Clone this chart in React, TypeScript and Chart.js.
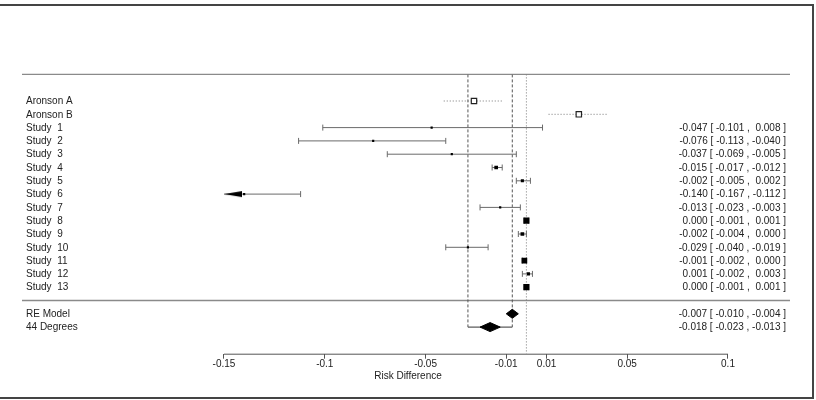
import React, { useEffect, useRef } from "react";
import { Chart, registerables } from "chart.js";

Chart.register(...registerables);

// ---------- data ----------
const aronsonLabels = ["Aronson A", "Aronson B"];
const aronsonEst = [-0.026, 0.026];
const aronsonLo = [-0.041, 0.011];
const aronsonHi = [-0.012, 0.04];

const studyLabels = [
  "Study  1", "Study  2", "Study  3", "Study  4", "Study  5", "Study  6", "Study  7",
  "Study  8", "Study  9", "Study  10", "Study  11", "Study  12", "Study  13",
];
const studyEst = [-0.047, -0.076, -0.037, -0.015, -0.002, -0.14, -0.013, 0.0, -0.002, -0.029, -0.001, 0.001, 0.0];
const studyLo = [-0.101, -0.113, -0.069, -0.017, -0.005, -0.167, -0.023, -0.001, -0.004, -0.04, -0.002, -0.002, -0.001];
const studyHi = [0.008, -0.04, -0.005, -0.012, 0.002, -0.112, -0.003, 0.001, 0.0, -0.019, 0.0, 0.003, 0.001];
const studyWeights = [1, 1, 1, 7, 5, 1, 1, 20, 7, 1, 17, 5, 20];

const summaryLabels = ["RE Model", "44 Degrees"];
const summaryEst = [-0.007, -0.018];
const summaryLo = [-0.01, -0.023];
const summaryHi = [-0.004, -0.013];

const bracketLeft = -0.029;

const tickValues = [-0.15, -0.1, -0.05, -0.01, 0.01, 0.05, 0.1];
const tickLabels = ["-0.15", "-0.1", "-0.05", "-0.01", "0.01", "0.05", "0.1"];
const axisTitle = "Risk Difference";

// ---------- layout (rows) ----------
const topRow = -2;
const aronsonRows = [0, 1];
const studyRows = studyLabels.map((_, i) => i + 2);
const separatorRow = 15;
const summaryRows = [16, 17];
const bottomRow = 19;

const axisMin = tickValues[0];
const FONT = "'Liberation Sans', Arial, Helvetica, sans-serif";

const fmt = (v: number) => (v < 0 ? "-" : " ") + Math.abs(v).toFixed(3);
const ciText = (e: number, l: number, h: number) => `${fmt(e)} [ ${fmt(l)} , ${fmt(h)} ]`;

export default function App() {
  const ref = useRef<HTMLCanvasElement>(null);

  useEffect(() => {
    const canvas = ref.current;
    if (!canvas) return;

    // arrow marker (tip at centre of image)
    const arrow = document.createElement("canvas");
    arrow.width = 36;
    arrow.height = 8;
    const actx = arrow.getContext("2d")!;
    actx.fillStyle = "#000";
    actx.beginPath();
    actx.moveTo(18, 4);
    actx.lineTo(36, 1);
    actx.lineTo(36, 7);
    actx.closePath();
    actx.fill();

    // CI segments (solid, studies)
    const ciData: any[] = [];
    const capData: any[] = [];
    const arrowData: any[] = [];
    studyEst.forEach((_, i) => {
      const lo = Math.max(studyLo[i], axisMin);
      ciData.push({ x: lo, y: studyRows[i] }, { x: studyHi[i], y: studyRows[i] }, { x: null, y: null });
      if (studyLo[i] < axisMin) arrowData.push({ x: axisMin, y: studyRows[i] });
      else capData.push({ x: studyLo[i], y: studyRows[i] });
      capData.push({ x: studyHi[i], y: studyRows[i] });
    });
    const dotData: any[] = [];
    aronsonEst.forEach((_, i) => {
      dotData.push({ x: aronsonLo[i], y: aronsonRows[i] }, { x: aronsonHi[i], y: aronsonRows[i] }, { x: null, y: null });
    });

    const sideFor = (w: number) => Math.max(2.2, 6.2 * Math.sqrt(w / 20));
    const studyRadius = studyWeights.map((w) => sideFor(w) / Math.SQRT2);

    const dh = 0.34;
    const diamond = (k: number) => [
      { x: summaryLo[k], y: summaryRows[k] },
      { x: summaryEst[k], y: summaryRows[k] - dh },
      { x: summaryHi[k], y: summaryRows[k] },
      { x: summaryEst[k], y: summaryRows[k] + dh },
      { x: summaryLo[k], y: summaryRows[k] },
    ];

    const lineBase = { type: "line" as const, pointRadius: 0, tension: 0, fill: false, borderWidth: 1 };

    const decor = {
      id: "decor",
      beforeDatasetsDraw(chart: any) {
        const { ctx } = chart;
        const xs = chart.scales.x;
        const ys = chart.scales.y;
        ctx.save();
        ctx.strokeStyle = "#8a8a8a";
        ctx.lineWidth = 1.3;
        [topRow, separatorRow].forEach((r) => {
          const y = ys.getPixelForValue(r);
          ctx.beginPath();
          ctx.moveTo(22, y);
          ctx.lineTo(790, y);
          ctx.stroke();
        });
        // axis line
        const ay = chart.chartArea.bottom + 0.5;
        ctx.strokeStyle = "#555";
        ctx.lineWidth = 1;
        ctx.beginPath();
        ctx.moveTo(xs.getPixelForValue(tickValues[0]), ay);
        ctx.lineTo(xs.getPixelForValue(tickValues[tickValues.length - 1]), ay);
        ctx.stroke();
        ctx.restore();
      },
      afterDraw(chart: any) {
        const { ctx } = chart;
        const ys = chart.scales.y;
        ctx.save();
        ctx.fillStyle = "#222";
        ctx.font = `10px ${FONT}`;
        ctx.textBaseline = "middle";
        ctx.textAlign = "left";
        aronsonLabels.forEach((t, i) => ctx.fillText(t, 26, ys.getPixelForValue(aronsonRows[i]) + 0.5));
        studyLabels.forEach((t, i) => ctx.fillText(t, 26, ys.getPixelForValue(studyRows[i]) + 0.5));
        summaryLabels.forEach((t, i) => ctx.fillText(t, 26, ys.getPixelForValue(summaryRows[i]) + 0.5));
        ctx.textAlign = "right";
        studyEst.forEach((e, i) =>
          ctx.fillText(ciText(e, studyLo[i], studyHi[i]), 786, ys.getPixelForValue(studyRows[i]) + 0.5)
        );
        summaryEst.forEach((e, i) =>
          ctx.fillText(ciText(e, summaryLo[i], summaryHi[i]), 786, ys.getPixelForValue(summaryRows[i]) + 0.5)
        );
        // frame
        ctx.strokeStyle = "#444";
        ctx.lineWidth = 2;
        ctx.beginPath();
        ctx.moveTo(0, 5);
        ctx.lineTo(813, 5);
        ctx.lineTo(813, 398);
        ctx.lineTo(0, 398);
        ctx.stroke();
        ctx.restore();
      },
    };

    const chart = new Chart(canvas, {
      type: "scatter",
      data: {
        datasets: [
          {
            type: "scatter",
            data: studyEst.map((e, i) => ({ x: e, y: studyRows[i] })),
            pointStyle: "rect",
            pointRadius: studyRadius,
            pointBorderWidth: 0,
            backgroundColor: "#000",
            borderColor: "#000",
            order: 0,
          },
          {
            type: "scatter",
            data: aronsonEst.map((e, i) => ({ x: e, y: aronsonRows[i] })),
            pointStyle: "rect",
            pointRadius: 3.8,
            pointBorderWidth: 1.2,
            backgroundColor: "#fff",
            borderColor: "#222",
            order: 0,
          },
          {
            type: "scatter",
            data: arrowData,
            pointStyle: arrow as any,
            order: 1,
          },
          {
            type: "scatter",
            data: capData,
            pointStyle: "line",
            rotation: 90,
            pointRadius: 3,
            pointBorderWidth: 1,
            borderColor: "#6a6a6a",
            order: 1,
          },
          { ...lineBase, data: ciData, borderColor: "#6a6a6a", spanGaps: false, order: 2 },
          { ...lineBase, data: dotData, borderColor: "#777", borderDash: [1, 2], spanGaps: false, order: 2 },
          { ...lineBase, data: diamond(0), fill: "shape", backgroundColor: "#000", borderColor: "#000", order: 0 },
          { ...lineBase, data: diamond(1), fill: "shape", backgroundColor: "#000", borderColor: "#000", order: 0 },
          {
            ...lineBase,
            data: [{ x: bracketLeft, y: topRow }, { x: bracketLeft, y: summaryRows[1] }],
            borderColor: "#555",
            borderDash: [3, 2],
            order: 3,
          },
          {
            ...lineBase,
            data: [{ x: summaryEst[0], y: topRow }, { x: summaryEst[0], y: summaryRows[1] }],
            borderColor: "#555",
            borderDash: [3, 2],
            order: 3,
          },
          {
            ...lineBase,
            data: [{ x: bracketLeft, y: summaryRows[1] }, { x: summaryEst[0], y: summaryRows[1] }],
            borderColor: "#333",
            order: 3,
          },
          {
            ...lineBase,
            data: [{ x: 0, y: topRow }, { x: 0, y: bottomRow }],
            borderColor: "#777",
            borderDash: [1, 2],
            order: 3,
          },
        ] as any,
      },
      options: {
        responsive: false,
        animation: false,
        events: [],
        layout: { autoPadding: false, padding: { top: 74.4, bottom: 17.3, left: 0, right: 0 } },
        plugins: { legend: { display: false }, tooltip: { enabled: false } },
        scales: {
          x: {
            type: "linear",
            min: axisMin - 224 / 2016,
            max: axisMin + 592 / 2016,
            afterBuildTicks: (scale: any) => {
              scale.ticks = tickValues.map((v) => ({ value: v }));
            },
            border: { display: false },
            grid: { display: true, drawOnChartArea: false, drawTicks: true, tickLength: 5, color: "#555", lineWidth: 1 },
            ticks: {
              autoSkip: false,
              maxRotation: 0,
              padding: 0,
              color: "#222",
              font: { family: FONT, size: 10 },
              callback: (v: any) => {
                const i = tickValues.findIndex((t) => Math.abs(t - Number(v)) < 1e-9);
                return i >= 0 ? tickLabels[i] : "";
              },
            },
            title: { display: true, text: axisTitle, color: "#222", font: { family: FONT, size: 10 }, padding: 0 },
          },
          y: {
            type: "linear",
            display: false,
            reverse: true,
            min: topRow,
            max: bottomRow,
          },
        },
      },
      plugins: [decor],
    });

    return () => chart.destroy();
  }, []);

  return (
    <div style={{ position: "fixed", left: 0, top: 0, width: 816, height: 400, background: "#fff" }}>
      <canvas ref={ref} width={816} height={400} style={{ display: "block" }} />
    </div>
  );
}
